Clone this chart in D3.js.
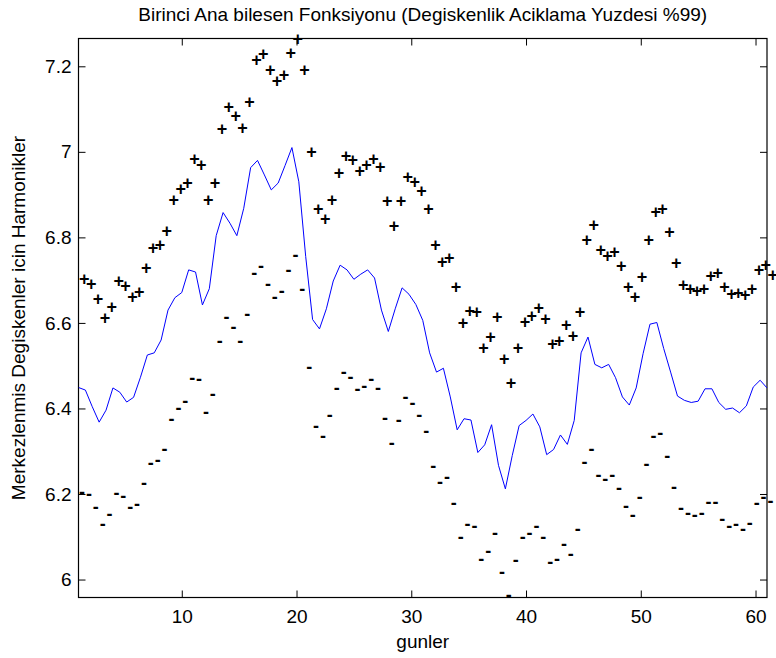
<!DOCTYPE html>
<html lang="tr">
<head>
    <meta charset="UTF-8">
    <title>Birinci Ana bilesen Fonksiyonu</title>
    <script src="https://cdn.jsdelivr.net/npm/d3@7"></script>
    <style>
        body{
            margin: 0;
            background: #ffffff;
        }
        text{
            font-family: "Liberation Sans", Arial, Helvetica, sans-serif;
        }
    </style>
</head>
<body>

<svg id="main" width="776" height="658"></svg>

<script>
    // gunler (x grid of the curves)
    let days = [1, 1.6, 2.2, 2.8, 3.4, 4, 4.6, 5.2, 5.8, 6.4,
        7, 7.6, 8.2, 8.8, 9.4, 10, 10.6, 11.2, 11.8, 12.4,
        13, 13.6, 14.2, 14.8, 15.4, 16, 16.6, 17.2, 17.8, 18.4,
        19, 19.6, 20.2, 20.8, 21.4, 22, 22.6, 23.2, 23.8, 24.4,
        25, 25.6, 26.2, 26.8, 27.4, 28, 28.6, 29.2, 29.8, 30.4,
        31, 31.6, 32.2, 32.8, 33.4, 34, 34.6, 35.2, 35.8, 36.4,
        37, 37.6, 38.2, 38.8, 39.4, 40, 40.6, 41.2, 41.8, 42.4,
        43, 43.6, 44.2, 44.8, 45.4, 46, 46.6, 47.2, 47.8, 48.4,
        49, 49.6, 50.2, 50.8, 51.4, 52, 52.6, 53.2, 53.8, 54.4,
        55, 55.6, 56.2, 56.8, 57.4, 58, 58.6, 59.2, 59.8, 60.4,
        61];

    // mean curve (blue line)
    let meanVals = [6.449, 6.443, 6.404, 6.368, 6.396, 6.448, 6.438, 6.415, 6.426, 6.473,
        6.525, 6.530, 6.560, 6.630, 6.659, 6.671, 6.724, 6.719, 6.642, 6.680,
        6.804, 6.858, 6.833, 6.804, 6.868, 6.963, 6.980, 6.946, 6.911, 6.927,
        6.968, 7.010, 6.930, 6.755, 6.608, 6.586, 6.633, 6.698, 6.735, 6.724,
        6.702, 6.714, 6.724, 6.705, 6.630, 6.580, 6.633, 6.682, 6.667, 6.643,
        6.606, 6.530, 6.485, 6.494, 6.427, 6.350, 6.376, 6.373, 6.297, 6.315,
        6.362, 6.267, 6.212, 6.290, 6.360, 6.372, 6.387, 6.357, 6.292, 6.304,
        6.338, 6.316, 6.372, 6.530, 6.567, 6.503, 6.495, 6.503, 6.472, 6.427,
        6.408, 6.448, 6.528, 6.597, 6.601, 6.540, 6.485, 6.429, 6.419, 6.414,
        6.417, 6.446, 6.446, 6.414, 6.398, 6.401, 6.390, 6.406, 6.450, 6.466,
        6.448];

    // mean + harmonic ("+" marks)
    let plusVals = [6.703, 6.692, 6.657, 6.613, 6.639, 6.698, 6.686, 6.662, 6.674, 6.728,
        6.776, 6.784, 6.815, 6.887, 6.914, 6.927, 6.983, 6.970, 6.887, 6.929,
        7.053, 7.106, 7.084, 7.057, 7.117, 7.216, 7.230, 7.193, 7.167, 7.181,
        7.232, 7.265, 7.191, 7.000, 6.866, 6.843, 6.887, 6.952, 6.992, 6.981,
        6.956, 6.969, 6.983, 6.965, 6.885, 6.827, 6.885, 6.943, 6.930, 6.909,
        6.868, 6.784, 6.742, 6.753, 6.685, 6.601, 6.628, 6.626, 6.543, 6.567,
        6.614, 6.517, 6.460, 6.542, 6.602, 6.616, 6.636, 6.609, 6.551, 6.558,
        6.596, 6.570, 6.627, 6.794, 6.830, 6.771, 6.758, 6.766, 6.734, 6.685,
        6.662, 6.709, 6.794, 6.861, 6.866, 6.813, 6.740, 6.689, 6.680, 6.676,
        6.680, 6.711, 6.717, 6.684, 6.668, 6.670, 6.666, 6.680, 6.725, 6.736,
        6.712];

    // mean - harmonic ("-" marks)
    let minusVals = [6.201, 6.198, 6.166, 6.128, 6.150, 6.200, 6.193, 6.167, 6.174, 6.222,
        6.269, 6.276, 6.302, 6.372, 6.398, 6.415, 6.469, 6.466, 6.388, 6.430,
        6.556, 6.611, 6.588, 6.556, 6.619, 6.713, 6.730, 6.689, 6.658, 6.672,
        6.722, 6.755, 6.676, 6.495, 6.356, 6.334, 6.382, 6.446, 6.483, 6.470,
        6.442, 6.449, 6.466, 6.446, 6.375, 6.316, 6.370, 6.423, 6.409, 6.382,
        6.345, 6.263, 6.226, 6.236, 6.176, 6.096, 6.127, 6.122, 6.046, 6.064,
        6.106, 6.015, 5.962, 6.044, 6.096, 6.106, 6.123, 6.096, 6.038, 6.046,
        6.081, 6.057, 6.116, 6.271, 6.302, 6.242, 6.232, 6.242, 6.211, 6.169,
        6.148, 6.190, 6.267, 6.334, 6.339, 6.287, 6.213, 6.165, 6.153, 6.148,
        6.152, 6.179, 6.179, 6.139, 6.123, 6.127, 6.116, 6.129, 6.176, 6.190,
        6.180];

    let xTicks = [10, 20, 30, 40, 50, 60];
    let yTicks = [6, 6.2, 6.4, 6.6, 6.8, 7, 7.2];

    let titleText = "Birinci Ana bilesen Fonksiyonu (Degiskenlik Aciklama Yuzdesi %99)";
    let xLabel = "gunler";
    let yLabel = "Merkezlenmis Degiskenler icin Harmonikler";

    // axes box
    let boxLeft = 78.5, boxRight = 767, boxTop = 38.5, boxBottom = 597.5;
    let tickLen = 7;
    let fontSize = 19;

    let svg = d3.select("#main");

    let x = d3.scaleLinear().domain([1, 61]).range([boxLeft, boxRight]);
    let y = d3.scaleLinear().domain([5.958, 7.265]).range([boxBottom, boxTop]);

    // ticks, inside on all four sides
    svg.append("g")
        .attr("transform", `translate(0,${boxBottom})`)
        .call(d3.axisBottom(x).tickValues(xTicks).tickSizeInner(-tickLen).tickSizeOuter(0).tickPadding(12))
        .call(g => g.select(".domain").remove());
    svg.append("g")
        .attr("transform", `translate(0,${boxTop})`)
        .call(d3.axisTop(x).tickValues(xTicks).tickSizeInner(-tickLen).tickSizeOuter(0).tickFormat(""))
        .call(g => g.select(".domain").remove());
    svg.append("g")
        .attr("transform", `translate(${boxLeft},0)`)
        .call(d3.axisLeft(y).tickValues(yTicks).tickSizeInner(-tickLen).tickSizeOuter(0).tickPadding(7)
            .tickFormat(d3.format("")))
        .call(g => g.select(".domain").remove());
    svg.append("g")
        .attr("transform", `translate(${boxRight},0)`)
        .call(d3.axisRight(y).tickValues(yTicks).tickSizeInner(-tickLen).tickSizeOuter(0).tickFormat(""))
        .call(g => g.select(".domain").remove());

    svg.selectAll(".tick line").attr("stroke", "#000").attr("stroke-width", 1);
    svg.selectAll(".tick text")
        .attr("fill", "#000")
        .style("font-size", fontSize + "px")
        .style("font-family", '"Liberation Sans", Arial, sans-serif');

    svg.append("rect")
        .attr("x", boxLeft).attr("y", boxTop)
        .attr("width", boxRight - boxLeft).attr("height", boxBottom - boxTop)
        .attr("fill", "none")
        .attr("stroke", "#000")
        .attr("stroke-width", 1.2);

    // clip only the line, the text marks spill over like matlab text does
    svg.append("clipPath").attr("id", "plotclip")
        .append("rect")
        .attr("x", boxLeft).attr("y", boxTop)
        .attr("width", boxRight - boxLeft).attr("height", boxBottom - boxTop);

    let line = d3.line()
        .x((d, i) => x(days[i]))
        .y(d => y(d));

    svg.append("path")
        .datum(meanVals)
        .attr("clip-path", "url(#plotclip)")
        .attr("fill", "none")
        .attr("stroke", "#0000ff")
        .attr("stroke-width", 1)
        .attr("d", line);

    // "+" and "-" as left aligned text, like text(t, f, '+')
    let markSize = 18;
    svg.append("g")
        .selectAll("text")
        .data(plusVals)
        .join("text")
        .attr("x", (d, i) => x(days[i]) + 0.5)
        .attr("y", d => y(d) + 0.35 * markSize)
        .style("font-size", markSize + "px")
        .style("font-weight", "bold")
        .attr("fill", "#000")
        .text("+");

    svg.append("g")
        .selectAll("text")
        .data(minusVals)
        .join("text")
        .attr("x", (d, i) => x(days[i]) + 0.5)
        .attr("y", d => y(d) + 0.27 * markSize)
        .style("font-size", markSize + "px")
        .style("font-weight", "bold")
        .attr("fill", "#000")
        .text("-");

    // labels
    svg.append("text")
        .attr("x", (boxLeft + boxRight) / 2)
        .attr("y", 21)
        .attr("text-anchor", "middle")
        .style("font-size", fontSize + "px")
        .text(titleText);

    svg.append("text")
        .attr("x", (boxLeft + boxRight) / 2)
        .attr("y", 648)
        .attr("text-anchor", "middle")
        .style("font-size", fontSize + "px")
        .text(xLabel);

    svg.append("text")
        .attr("transform", `translate(25,${(boxTop + boxBottom) / 2}) rotate(-90)`)
        .attr("text-anchor", "middle")
        .style("font-size", fontSize + "px")
        .text(yLabel);
</script>

</body>
</html>
